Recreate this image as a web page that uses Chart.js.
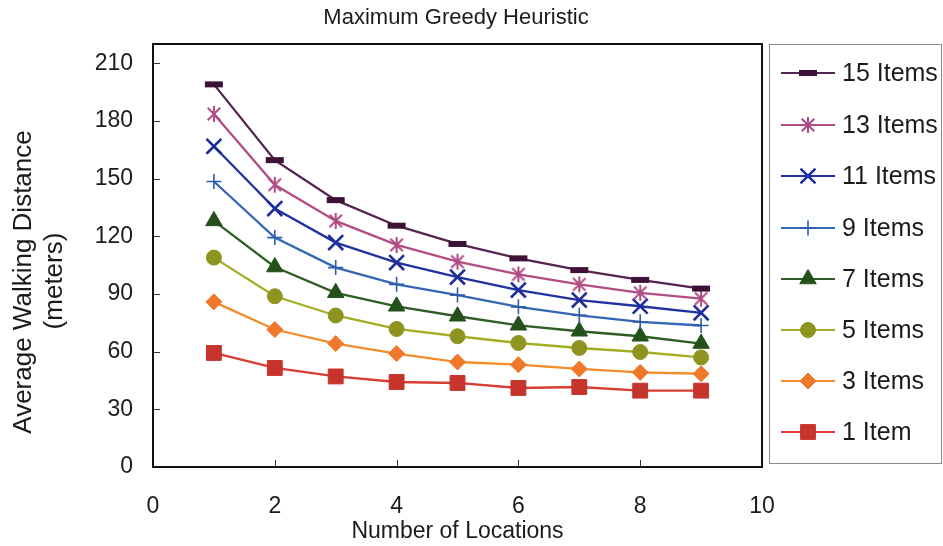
<!DOCTYPE html>
<html>
<head>
<meta charset="utf-8">
<script src="https://cdn.jsdelivr.net/npm/chart.js@4.4.1/dist/chart.umd.min.js"></script>
<style>
  html, body { margin: 0; padding: 0; background: #ffffff; }
  #wrap { width: 943px; height: 546px; position: relative; }
  canvas { display: block; }
</style>
</head>
<body>
<div id="wrap"><canvas id="chart" width="943" height="546"></canvas></div>
<script>
// Number of pick locations on the x axis
const locations = [1, 2, 3, 4, 5, 6, 7, 8, 9];

// Average walking distance (meters) per order size
const items15 = [199.0, 159.6, 138.8, 125.5, 116.0, 108.5, 102.4, 97.3, 92.8];
const items13 = [183.6, 146.8, 128.0, 115.5, 106.8, 100.2, 95.0, 90.6, 87.6];
const items11 = [166.8, 134.4, 116.7, 106.3, 98.8, 92.0, 86.8, 83.6, 80.2];
const items9  = [148.5, 119.3, 103.7, 95.0, 89.4, 83.3, 78.9, 75.5, 73.6];
const items7  = [128.0, 104.0, 90.6, 83.6, 78.4, 73.7, 70.6, 68.0, 64.2];
const items5  = [108.9, 88.8, 78.8, 71.8, 68.0, 64.5, 61.9, 59.8, 57.0];
const items3  = [85.9, 71.5, 64.2, 59.0, 54.6, 53.2, 51.0, 49.2, 48.5];
const items1  = [59.3, 51.5, 47.1, 44.2, 43.7, 41.1, 41.6, 39.7, 39.7];

const seriesNames = ['15 Items', '13 Items', '11 Items', '9 Items', '7 Items', '5 Items', '3 Items', '1 Item'];

// Axis tick labels
const xTicks = [0, 2, 4, 6, 8, 10];
const yTicks = [0, 30, 60, 90, 120, 150, 180, 210];

const FONT = "'Liberation Sans', Arial, Helvetica, sans-serif";
const TEXT = '#1b1b1b';

// Asterisk marker (vertical bar plus an X)
function asterisk(color, size, lw) {
  const c = document.createElement('canvas');
  c.width = size; c.height = size;
  const g = c.getContext('2d');
  g.strokeStyle = color; g.lineWidth = lw; g.lineCap = 'butt';
  const m = size / 2, r = size / 2 - 1, d = r * 0.78;
  g.beginPath();
  g.moveTo(m, m - r); g.lineTo(m, m + r);
  g.moveTo(m - d, m - d); g.lineTo(m + d, m + d);
  g.moveTo(m + d, m - d); g.lineTo(m - d, m + d);
  g.stroke();
  return c;
}

const styles = [
  { data: items15, line: '#552450', mark: '#3d1236', style: 'line', r: 9, bw: 6 },
  { data: items13, line: '#b44c86', mark: '#b04a84', style: asterisk('#b04a84', 18, 2), r: 9, bw: 1 },
  { data: items11, line: '#2232a0', mark: '#1f2c9c', style: 'crossRot', r: 10.5, bw: 2.6 },
  { data: items9,  line: '#3366b4', mark: '#2f5cab', style: 'cross', r: 7.5, bw: 1.6 },
  { data: items7,  line: '#2f5e24', mark: '#24501c', style: 'triangle', r: 9.5, bw: 1 },
  { data: items5,  line: '#a3ad22', mark: '#8f931f', style: 'circle', r: 7.5, bw: 1 },
  { data: items3,  line: '#f48c2a', mark: '#f0782a', style: 'rectRot', r: 8, bw: 1 },
  { data: items1,  line: '#d83c32', mark: '#c6342c', style: 'rect', r: 10.5, bw: 1 }
];

const datasets = styles.map((s, i) => ({
  label: seriesNames[i],
  data: locations.map((x, j) => ({ x: x, y: s.data[j] })),
  borderColor: s.line,
  borderWidth: 2.3,
  backgroundColor: s.mark,
  pointStyle: s.style,
  pointRadius: s.r,
  pointHoverRadius: s.r,
  pointBorderWidth: s.bw,
  pointBorderColor: s.mark,
  pointBackgroundColor: s.mark,
  tension: 0,
  fill: false
}));

// Frame, inner tick marks, title, y-axis title and legend box
const decorations = {
  id: 'decorations',
  afterDraw(chart) {
    const ctx = chart.ctx;
    const a = chart.chartArea;
    const xs = chart.scales.x, ys = chart.scales.y;
    ctx.save();

    // inner tick marks
    ctx.strokeStyle = '#333';
    ctx.lineWidth = 1;
    ctx.beginPath();
    yTicks.forEach(v => {
      if (v === 0) return;
      const y = Math.round(ys.getPixelForValue(v)) + 0.5;
      ctx.moveTo(a.left, y); ctx.lineTo(a.left + 7, y);
    });
    xTicks.forEach(v => {
      if (v === 0 || v === 10) return;
      const x = Math.round(xs.getPixelForValue(v)) + 0.5;
      ctx.moveTo(x, a.bottom); ctx.lineTo(x, a.bottom - 7);
    });
    ctx.stroke();

    // plot frame
    ctx.strokeStyle = '#111';
    ctx.lineWidth = 2;
    ctx.strokeRect(a.left, a.top, a.right - a.left, a.bottom - a.top);

    // chart title
    ctx.fillStyle = TEXT;
    ctx.font = '22px ' + FONT;
    ctx.textAlign = 'center';
    ctx.textBaseline = 'middle';
    ctx.fillText('Maximum Greedy Heuristic', 456, 18);

    // y-axis title (two lines)
    ctx.font = '26px ' + FONT;
    ctx.textBaseline = 'alphabetic';
    ctx.save();
    ctx.translate(31, 282);
    ctx.rotate(-Math.PI / 2);
    ctx.fillText('Average Walking Distance', 0, 0);
    ctx.restore();
    ctx.save();
    ctx.translate(62, 281);
    ctx.rotate(-Math.PI / 2);
    ctx.fillText('(meters)', 0, 0);
    ctx.restore();

    // legend box
    ctx.strokeStyle = '#8a8a8a';
    ctx.lineWidth = 1;
    ctx.strokeRect(769.5, 44.5, 172, 419);

    const rowY = [73, 125, 176, 228, 279, 330, 381, 432];
    chart.data.datasets.forEach((ds, i) => {
      const y = rowY[i];
      ctx.strokeStyle = ds.borderColor;
      ctx.lineWidth = 2;
      ctx.beginPath();
      ctx.moveTo(781, y); ctx.lineTo(835, y);
      ctx.stroke();
      ctx.fillStyle = ds.pointBackgroundColor;
      ctx.strokeStyle = ds.pointBorderColor;
      ctx.lineWidth = ds.pointBorderWidth;
      Chart.helpers.drawPoint(ctx, {
        pointStyle: ds.pointStyle,
        radius: ds.pointRadius,
        borderWidth: ds.pointBorderWidth,
        rotation: 0
      }, 808, y);
      ctx.fillStyle = TEXT;
      ctx.font = '25px ' + FONT;
      ctx.textAlign = 'left';
      ctx.textBaseline = 'middle';
      ctx.fillText(ds.label, 842, y + 1);
    });

    ctx.restore();
  }
};

new Chart(document.getElementById('chart'), {
  type: 'line',
  data: { datasets: datasets },
  options: {
    responsive: false,
    animation: false,
    devicePixelRatio: 1,
    layout: { padding: { top: 44, right: 181, left: 0, bottom: 0 } },
    plugins: {
      legend: { display: false },
      title: { display: false },
      tooltip: { enabled: false }
    },
    scales: {
      x: {
        type: 'linear',
        min: 0,
        max: 10,
        afterFit(scale) { scale.height = 79; },
        afterBuildTicks(scale) { scale.ticks = xTicks.map(v => ({ value: v })); },
        grid: { display: false, drawTicks: false },
        border: { display: false },
        ticks: { color: TEXT, font: { family: FONT, size: 23 }, padding: 26, maxRotation: 0, autoSkip: false },
        title: {
          display: true,
          text: 'Number of Locations',
          color: TEXT,
          font: { family: FONT, size: 23 },
          padding: { top: 0, bottom: 1 }
        }
      },
      y: {
        type: 'linear',
        min: 0,
        max: 220,
        afterFit(scale) { scale.width = 153; },
        afterBuildTicks(scale) { scale.ticks = yTicks.map(v => ({ value: v })); },
        grid: { display: false, drawTicks: false },
        border: { display: false },
        ticks: { color: TEXT, font: { family: FONT, size: 23 }, padding: 20 }
      }
    }
  },
  plugins: [decorations]
});
</script>
</body>
</html>
